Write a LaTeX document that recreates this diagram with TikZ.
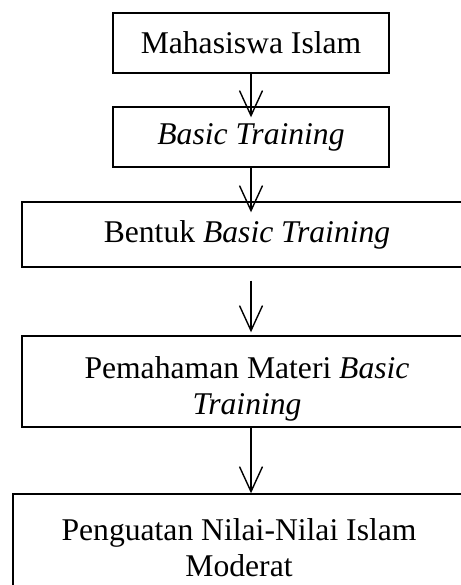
\documentclass[tikz,border=0pt]{standalone}
\usepackage{fontspec}
\setmainfont{Liberation Serif}
\usepackage{tikz}
\usetikzlibrary{arrows.meta, positioning, calc}

\begin{document}
\begin{tikzpicture}[
				box/.style={rectangle, draw=black, line width=0.8pt, inner sep=0pt, align=center, font=\fontsize{18pt}{20.5pt}\selectfont},
				arrow/.style={-{Straight Barb[length=0.5cm, width=0.46cm]}, line width=0.8pt, draw=black}
				]
				\useasboundingbox (0,0) rectangle (9.22,-11.7);
				\clip (0,0) rectangle (9.22,-11.7);
				
				% Row 1: Mahasiswa
				\node[box, minimum width=5.52cm, minimum height=1.2cm] (mhs) at (5.02, -0.86) {Mahasiswa Islam};
				
				% Row 2: Basic Training
				\node[box, minimum width=5.52cm, minimum height=1.2cm] (bt) at (5.02, -2.74) {\textit{Basic Training}};
				
				% Row 3: Bentuk
				\node[box, minimum width=9.0cm, minimum height=1.3cm] (bentuk) at (4.94, -4.69) {Bentuk \textit{Basic Training}};
				
				% Row 4: Pemahaman (text sits a little low in the box)
				\node[box, minimum width=9.0cm, minimum height=1.82cm] (paham) at (4.94, -7.63) {\rule{0pt}{0.72cm}Pemahaman Materi \textit{Basic}\\\textit{Training}};
				
				% Row 5: Penguatan (cut off at the bottom)
				\node[box, minimum width=9.04cm, minimum height=2.16cm] (kuat) at (4.78, -10.96) {Penguatan Nilai-Nilai Islam\\Moderat};
				
				% Arrows
				\draw[arrow, shorten >=-0.22cm] (mhs.south) -- (bt.north);
				\draw[arrow, shorten >=-0.22cm] (bt.south) -- (bt.south |- bentuk.north);
				\draw[arrow, shorten <=0.26cm, shorten >=0.06cm] (bt.south |- bentuk.south) -- (bt.south |- paham.north);
				\draw[arrow] (bt.south |- paham.south) -- (bt.south |- kuat.north);
			\end{tikzpicture}
\end{document}
